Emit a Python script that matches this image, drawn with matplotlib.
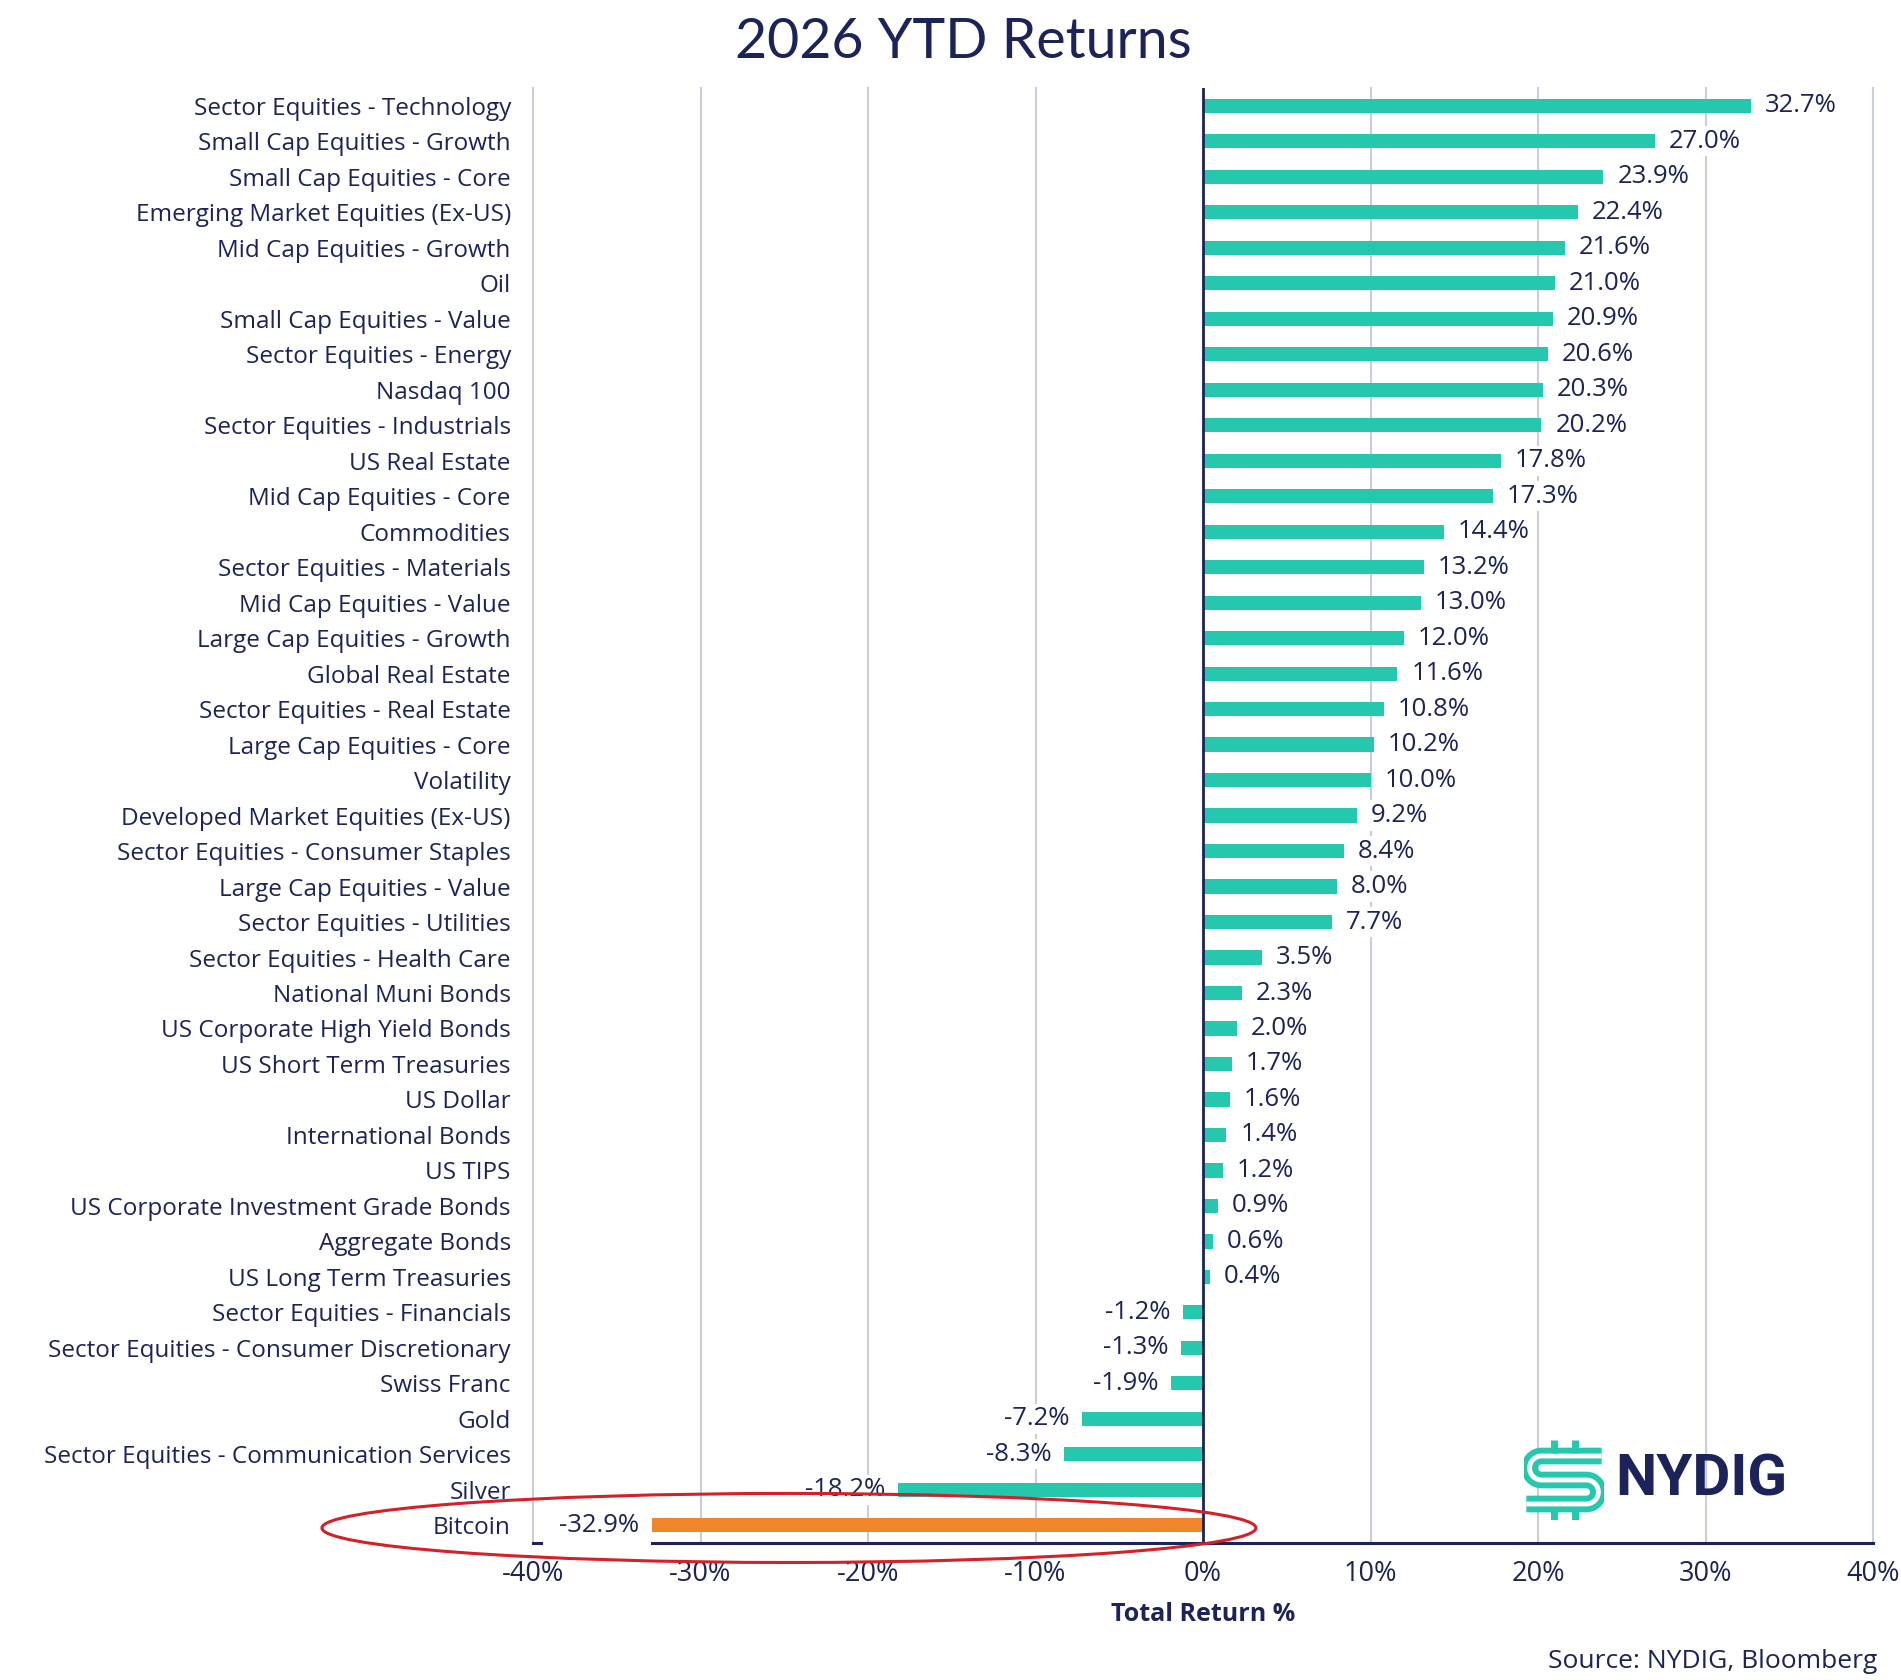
import matplotlib.pyplot as plt
from matplotlib.patches import Ellipse
import numpy as np

# data, top to bottom
categories = [
    "Sector Equities - Technology", "Small Cap Equities - Growth", "Small Cap Equities - Core",
    "Emerging Market Equities (Ex-US)", "Mid Cap Equities - Growth", "Oil",
    "Small Cap Equities - Value", "Sector Equities - Energy", "Nasdaq 100",
    "Sector Equities - Industrials", "US Real Estate", "Mid Cap Equities - Core",
    "Commodities", "Sector Equities - Materials", "Mid Cap Equities - Value",
    "Large Cap Equities - Growth", "Global Real Estate", "Sector Equities - Real Estate",
    "Large Cap Equities - Core", "Volatility", "Developed Market Equities (Ex-US)",
    "Sector Equities - Consumer Staples", "Large Cap Equities - Value", "Sector Equities - Utilities",
    "Sector Equities - Health Care", "National Muni Bonds", "US Corporate High Yield Bonds",
    "US Short Term Treasuries", "US Dollar", "International Bonds", "US TIPS",
    "US Corporate Investment Grade Bonds", "Aggregate Bonds", "US Long Term Treasuries",
    "Sector Equities - Financials", "Sector Equities - Consumer Discretionary", "Swiss Franc",
    "Gold", "Sector Equities - Communication Services", "Silver", "Bitcoin",
]
returns = [
    32.7, 27.0, 23.9, 22.4, 21.6, 21.0, 20.9, 20.6, 20.3, 20.2, 17.8, 17.3, 14.4, 13.2,
    13.0, 12.0, 11.6, 10.8, 10.2, 10.0, 9.2, 8.4, 8.0, 7.7, 3.5, 2.3, 2.0, 1.7, 1.6, 1.4,
    1.2, 0.9, 0.6, 0.4, -1.2, -1.3, -1.9, -7.2, -8.3, -18.2, -32.9,
]
highlight = "Bitcoin"
x_ticks = [-40, -30, -20, -10, 0, 10, 20, 30, 40]

NAVY = "#1b2358"
TEAL = "#25c7ad"
ORANGE = "#f0862c"
GRID = "#c9cde0"
RED = "#d42027"

plt.rcParams["font.family"] = ["Open Sans", "DejaVu Sans"]

fig = plt.figure(figsize=(19.01, 16.80), dpi=100)
ax = fig.add_axes([0.2804, 0.0815, 0.7049, 0.8661])

y = np.arange(len(categories))
colors = [ORANGE if c == highlight else TEAL for c in categories]
ax.barh(y, returns, height=0.4, color=colors, zorder=2)

for yi, v in zip(y, returns):
    if v >= 0:
        ax.annotate(f"{v:.1f}%", (v, yi), xytext=(10, 0), textcoords="offset points",
                    ha="left", va="center", fontsize=18.5, color=NAVY, zorder=4,
                    bbox=dict(boxstyle="square,pad=0.1", fc="white", ec="none"))
    else:
        ax.annotate(f"{v:.1f}%", (v, yi), xytext=(-9, 0), textcoords="offset points",
                    ha="right", va="center", fontsize=18.5, color=NAVY, zorder=4,
                    bbox=dict(boxstyle="square,pad=0.1", fc="white", ec="none"))

ax.set_xlim(x_ticks[0], x_ticks[-1])
ax.set_ylim(len(categories) - 0.5, -0.5)
ax.set_yticks(y)
ax.set_yticklabels(categories, fontsize=17.5, color=NAVY)
ax.set_xticks(x_ticks)
ax.set_xticklabels([f"{t}%" for t in x_ticks], fontsize=19.5, color=NAVY)
ax.tick_params(axis="both", length=0)
ax.tick_params(axis="y", pad=16)
ax.tick_params(axis="x", pad=12)

for t in x_ticks:
    if t != 0:
        ax.axvline(t, color=GRID, lw=1.5, zorder=1, clip_on=False)
ax.axvline(0, color=NAVY, lw=2, zorder=3)

for side in ["top", "right", "left"]:
    ax.spines[side].set_visible(False)
ax.spines["bottom"].set_color(NAVY)
ax.spines["bottom"].set_linewidth(2.2)
ax.spines["bottom"].set_bounds(min(returns), x_ticks[-1])
ax.plot([x_ticks[0], x_ticks[0] + 0.5], [len(categories) - 0.5] * 2,
        color=NAVY, lw=2.2, clip_on=False, zorder=3)

ax.set_xlabel("Total Return %", fontsize=18, fontweight="bold", color=NAVY, labelpad=10)

fig.text(0.507, 0.975, "2026 YTD Returns", ha="center", va="center",
         fontsize=40, color=NAVY, family=["Lato", "DejaVu Sans"])
fig.text(0.9874, 0.0113, "Source: NYDIG, Bloomberg", ha="right", va="center",
         fontsize=19, color=NAVY)

# red ellipse around the Bitcoin row
fig.patches.append(Ellipse((0.415, 0.0905), 0.4913, 0.0411, transform=fig.transFigure,
                           fill=False, ec=RED, lw=2.2, zorder=10))

# NYDIG logo: double-stroked S with bars
fig.text(0.8496, 0.119, "NYDIG", ha="left", va="center", fontsize=42,
         fontweight="bold", color=NAVY, family=["Roboto", "DejaVu Sans"])
lax = fig.add_axes([1524 / 1901, 1 - 1520 / 1680, 80 / 1901, 80 / 1680])
lax.set_xlim(0, 1)
lax.set_ylim(0, 1)
lax.axis("off")
th = np.linspace(np.pi / 2, 3 * np.pi / 2, 30)
r = 0.15
sx = np.concatenate([[0.97], 0.22 + r * np.cos(th), 0.78 - r * np.cos(th), [0.03]])
sy = np.concatenate([[0.80], 0.65 + r * np.sin(th), 0.35 + r * np.sin(th), [0.20]])
lax.plot(sx, sy, color=TEAL, lw=12, solid_capstyle="butt")
lax.plot(sx, sy, color="white", lw=3.5, solid_capstyle="butt")
for bx in [0.38, 0.64]:
    lax.plot([bx, bx], [0.84, 1.0], color=TEAL, lw=5, solid_capstyle="butt")
    lax.plot([bx, bx], [0.0, 0.16], color=TEAL, lw=5, solid_capstyle="butt")

fig.savefig("out.png", dpi=100, facecolor="white")
